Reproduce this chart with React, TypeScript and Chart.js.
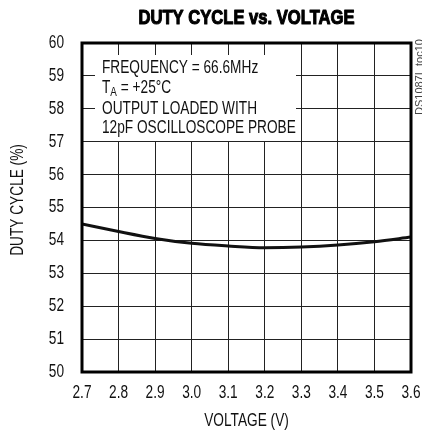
import React, { useEffect, useRef } from "react";
import { Chart, registerables } from "chart.js";

Chart.register(...registerables);

const voltages = [2.7, 2.8, 2.9, 3.0, 3.1, 3.2, 3.3, 3.4, 3.5, 3.6];
const dutyCycle = [54.5, 54.27, 54.06, 53.91, 53.83, 53.78, 53.8, 53.86, 53.96, 54.1];
const xTicks = [2.7, 2.8, 2.9, 3.0, 3.1, 3.2, 3.3, 3.4, 3.5, 3.6];
const yTicks = [50, 51, 52, 53, 54, 55, 56, 57, 58, 59, 60];

const titleText = "DUTY CYCLE vs. VOLTAGE";
const xTitle = "VOLTAGE (V)";
const yTitle = "DUTY CYCLE (%)";
const noteLines = ["FREQUENCY = 66.6MHz", "T|A| = +25°C", "OUTPUT LOADED WITH", "12pF OSCILLOSCOPE PROBE"];
const sideLabel = "DS1087L toc10";

const FONT = '"Liberation Sans", Arial, sans-serif';
const NARROW = 0.76;

function narrowText(ctx: any, text: string, x: number, y: number, align: string, font: string, sx = NARROW, rot = 0, stroke = 0) {
  ctx.save();
  ctx.translate(x, y);
  if (rot) ctx.rotate(rot);
  ctx.scale(sx, 1);
  ctx.font = font;
  ctx.textAlign = align;
  ctx.textBaseline = "middle";
  ctx.fillText(text, 0, 0);
  if (stroke) {
    ctx.lineWidth = stroke;
    ctx.strokeStyle = ctx.fillStyle;
    ctx.lineJoin = "round";
    ctx.strokeText(text, 0, 0);
  }
  ctx.restore();
}

const decorPlugin = {
  id: "decor",
  beforeDatasetsDraw(chart: any) {
    const { ctx, chartArea: a } = chart;
    ctx.save();
    ctx.fillStyle = "#fff";
    ctx.fillRect(a.left + 13, a.top + 12, 201, 86);
    ctx.fillStyle = "#111";
    const ys = [68, 88, 109, 128];
    noteLines.forEach((ln, i) => {
      const parts = ln.split("|");
      let x = a.left + 20;
      parts.forEach((p, j) => {
        const sub = j % 2 === 1;
        const font = (sub ? "13px " : "18px ") + FONT;
        narrowText(ctx, p, x, ys[i] + (sub ? 4 : 0), "left", font);
        ctx.font = font;
        x += ctx.measureText(p).width * NARROW;
      });
    });
    ctx.restore();
  },
  afterDraw(chart: any) {
    const { ctx, chartArea: a, scales } = chart;
    ctx.save();
    ctx.strokeStyle = "#000";
    ctx.lineWidth = 3;
    ctx.strokeRect(a.left, a.top, a.right - a.left, a.bottom - a.top);
    ctx.fillStyle = "#000";
    // title
    narrowText(ctx, titleText, (a.left + a.right) / 2, 18, "center", "bold 20px " + FONT, 0.83, 0, 1.1);
    ctx.fillStyle = "#111";
    // tick labels from the library's scales
    scales.x.ticks.forEach((t: any) => {
      narrowText(ctx, Number(t.value).toFixed(1), scales.x.getPixelForValue(t.value), 393.5, "center", "18px " + FONT);
    });
    scales.y.ticks.forEach((t: any) => {
      narrowText(ctx, String(t.value), a.left - 18, scales.y.getPixelForValue(t.value), "right", "18px " + FONT);
    });
    // axis titles
    narrowText(ctx, xTitle, (a.left + a.right) / 2, 421, "center", "18px " + FONT);
    narrowText(ctx, yTitle, 18, 200, "center", "18px " + FONT, NARROW, -Math.PI / 2);
    // side label
    ctx.fillStyle = "#444";
    narrowText(ctx, sideLabel, 420, 77, "center", "11px " + FONT, 1, -Math.PI / 2);
    ctx.restore();
  },
};

export default function App() {
  const ref = useRef<HTMLCanvasElement>(null);
  useEffect(() => {
    document.body.style.margin = "0";
    const chart = new Chart(ref.current!, {
      type: "line",
      data: {
        datasets: [
          {
            data: voltages.map((v, i) => ({ x: v, y: dutyCycle[i] })),
            borderColor: "#111",
            borderWidth: 3,
            pointRadius: 0,
            cubicInterpolationMode: "monotone",
            fill: false,
          },
        ],
      },
      options: {
        animation: false,
        responsive: false,
        maintainAspectRatio: false,
        layout: { padding: { top: 43, right: 11, left: 0, bottom: 0 } },
        plugins: { legend: { display: false }, tooltip: { enabled: false }, title: { display: false } },
        scales: {
          x: {
            type: "linear",
            min: 2.7,
            max: 3.6,
            afterBuildTicks: (s: any) => {
              s.ticks = xTicks.map((v) => ({ value: v }));
            },
            afterFit: (s: any) => {
              s.height = 62;
            },
            ticks: { display: false },
            grid: { color: "#222", lineWidth: 1, drawTicks: false },
            border: { display: false },
          },
          y: {
            type: "linear",
            min: 50,
            max: 60,
            afterBuildTicks: (s: any) => {
              s.ticks = yTicks.map((v) => ({ value: v }));
            },
            afterFit: (s: any) => {
              s.width = 82;
            },
            ticks: { display: false },
            grid: { color: "#222", lineWidth: 1, drawTicks: false },
            border: { display: false },
          },
        },
      },
      plugins: [decorPlugin],
    });
    return () => chart.destroy();
  }, []);
  return (
    <div style={{ position: "absolute", left: 0, top: 0, width: 422, height: 434, background: "#fff" }}>
      <canvas ref={ref} width={422} height={434} />
    </div>
  );
}
